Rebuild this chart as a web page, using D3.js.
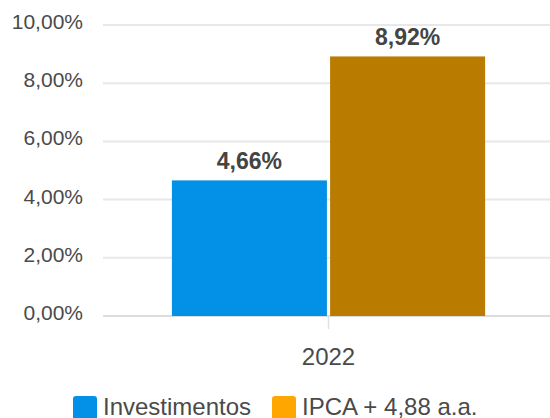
<!DOCTYPE html>
<html>
<head>
<meta charset="utf-8">
<script src="https://cdn.jsdelivr.net/npm/d3@7"></script>
<style>
  body { margin: 0; background: #fff; }
  svg text { font-family: "Liberation Sans", Arial, sans-serif; }
</style>
</head>
<body>
<div id="root"></div>
<script>
var categories = ["2022"];
var seriesNames = ["Investimentos", "IPCA + 4,88 a.a."];
var investimentos = [4.66];
var ipca = [8.92];
var yTicks = [0, 2, 4, 6, 8, 10];

var barColors = ["#0391e8", "#b97c00"];
var legendColors = ["#0391e8", "#ffa600"];

var width = 550, height = 418;
var plotLeft = 103, plotTop = 25, plotBottom = 316;

var svg = d3.select("#root")
    .append("svg")
    .attr("width", width)
    .attr("height", height);

var fmt = function (v) { return v.toFixed(2).replace(".", ",") + "%"; };

var y = d3.scaleLinear().domain([0, 10]).range([plotBottom, plotTop]);
var x0 = d3.scaleBand().domain(categories).range([plotLeft, 554]).paddingOuter(0.22);
var x1 = d3.scaleBand().domain(seriesNames).range([0, x0.bandwidth()]).paddingInner(0.02);

// grid
svg.append("g")
    .selectAll("line")
    .data(yTicks)
    .enter()
    .append("line")
    .attr("x1", plotLeft)
    .attr("x2", width)
    .attr("y1", d => y(d))
    .attr("y2", d => y(d))
    .attr("stroke", d => d === 0 ? "#dcdcdc" : "#e8e8e8")
    .attr("stroke-width", 2);

// y labels
svg.append("g")
    .selectAll("text")
    .data(yTicks)
    .enter()
    .append("text")
    .attr("x", 83)
    .attr("y", d => y(d) + 4)
    .attr("text-anchor", "end")
    .attr("font-size", 21)
    .attr("fill", "#4a4a4a")
    .text(fmt);

// x tick + label
categories.forEach(function (c) {
    var cx = x0(c) + x0.bandwidth() / 2;
    svg.append("line")
        .attr("x1", cx).attr("x2", cx)
        .attr("y1", plotBottom).attr("y2", plotBottom + 13)
        .attr("stroke", "#e0e0e0")
        .attr("stroke-width", 1.5);
    svg.append("text")
        .attr("x", cx)
        .attr("y", 365)
        .attr("text-anchor", "middle")
        .attr("font-size", 24)
        .attr("fill", "#4a4a4a")
        .text(c);
});

// bars
var rows = categories.map(function (c, i) {
    return { cat: c, values: [investimentos[i], ipca[i]] };
});

var groups = svg.append("g")
    .selectAll("g")
    .data(rows)
    .enter()
    .append("g")
    .attr("transform", d => "translate(" + x0(d.cat) + ",0)");

groups.selectAll("rect")
    .data(d => d.values.map((v, j) => ({ name: seriesNames[j], v: v, j: j })))
    .enter()
    .append("rect")
    .attr("x", d => x1(d.name))
    .attr("y", d => y(d.v))
    .attr("width", x1.bandwidth())
    .attr("height", d => plotBottom - y(d.v))
    .attr("fill", d => barColors[d.j]);

groups.selectAll("text")
    .data(d => d.values.map((v, j) => ({ name: seriesNames[j], v: v })))
    .enter()
    .append("text")
    .attr("x", d => x1(d.name) + x1.bandwidth() / 2)
    .attr("y", d => y(d.v) - 11)
    .attr("text-anchor", "middle")
    .attr("font-size", 23)
    .attr("font-weight", "bold")
    .attr("fill", "#444")
    .text(d => fmt(d.v));

// legend
var legendX = [73, 272];
var legend = svg.append("g")
    .selectAll("g")
    .data(seriesNames)
    .enter()
    .append("g")
    .attr("transform", (d, i) => "translate(" + legendX[i] + ",396)");

legend.append("rect")
    .attr("width", 24)
    .attr("height", 24)
    .attr("rx", 3)
    .attr("fill", (d, i) => legendColors[i]);

legend.append("text")
    .attr("x", 30)
    .attr("y", 19)
    .attr("font-size", 24)
    .attr("fill", "#4a4a4a")
    .text(d => d);
</script>
</body>
</html>
